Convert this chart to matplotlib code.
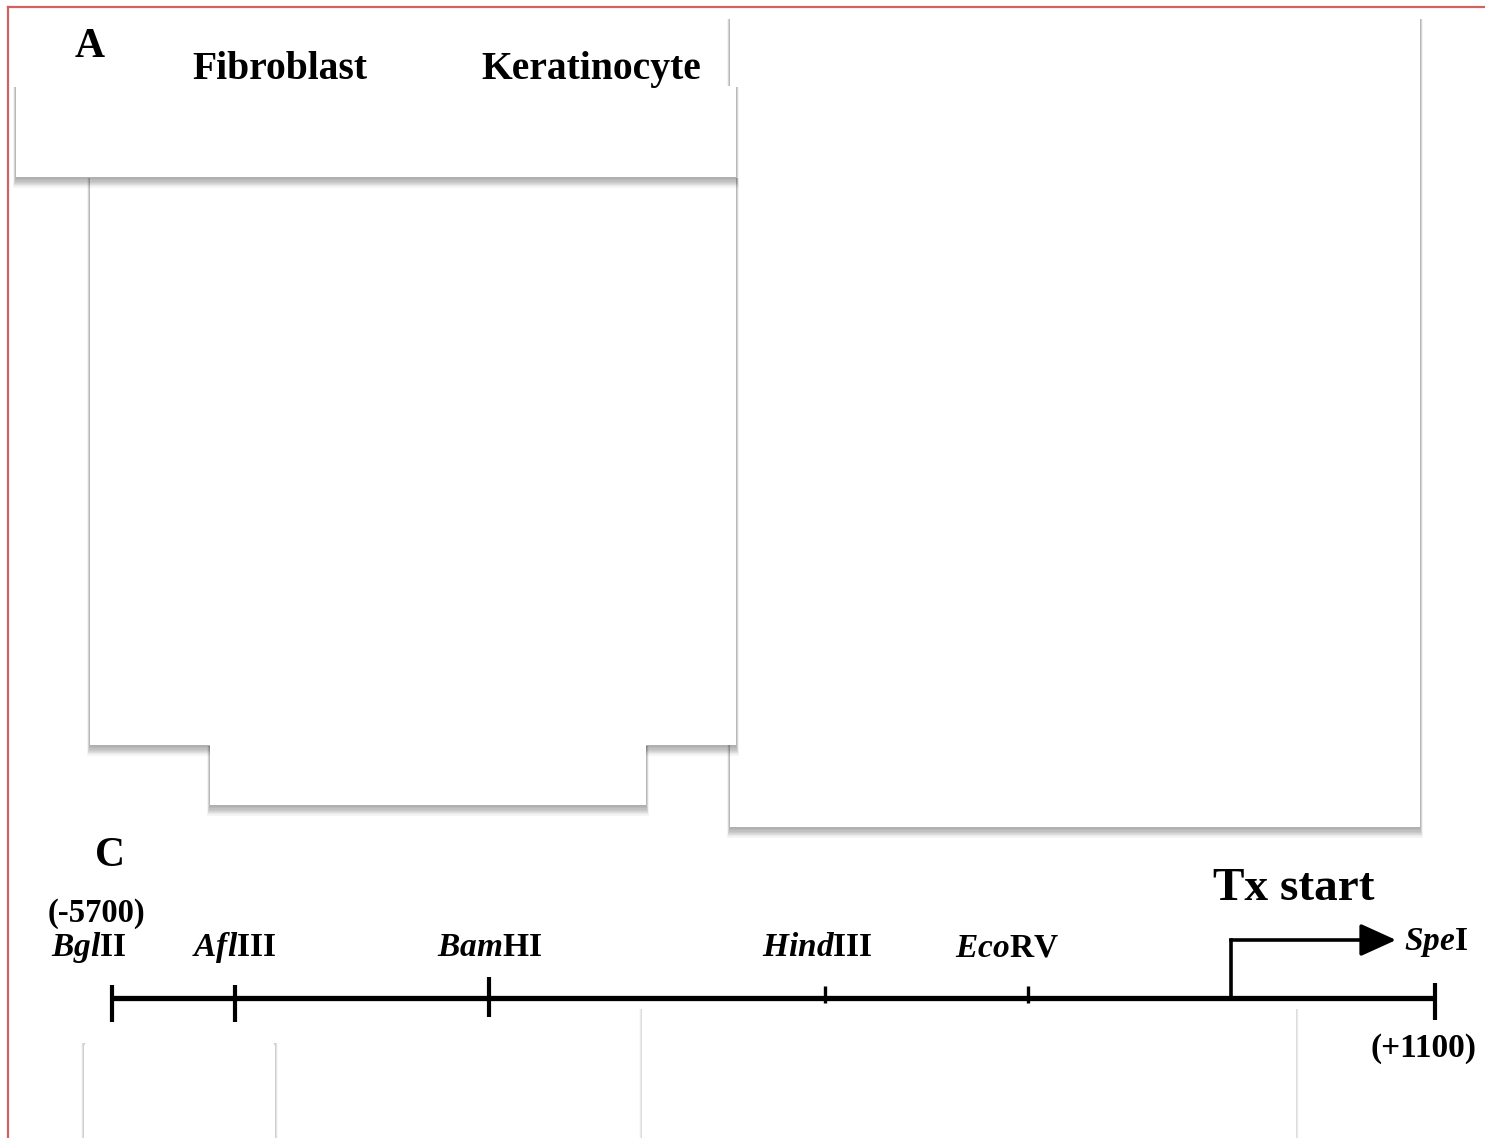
import matplotlib.pyplot as plt
from matplotlib.patches import Rectangle, FancyBboxPatch

plt.rcParams['font.family'] = 'Liberation Serif'
plt.rcParams['font.weight'] = 'bold'
plt.rcParams['mathtext.fontset'] = 'custom'
plt.rcParams['mathtext.it'] = 'Liberation Serif:italic:bold'
plt.rcParams['mathtext.rm'] = 'Liberation Serif:bold'
plt.rcParams['mathtext.bf'] = 'Liberation Serif:bold'

# restriction map data (bp relative to transcription start)
site_labels = [r'$\mathit{Bgl}$II', r'$\mathit{Afl}$III', r'$\mathit{Bam}$HI',
               r'$\mathit{Hind}$III', r'$\mathit{Eco}$RV', r'$\mathit{Spe}$I']
site_pos = [-5700, -5070, -3760, -2035, -990, 1100]
tx_start = 50
arrow_end = 900
map_start, map_end = -5700, 1100
end_labels = ['(-5700)', '(+1100)']

cell_types = ['Fibroblast', 'Keratinocyte']
cell_x = [280, 591]
panel_letters = ['A', 'C']

W, H = 1485, 1138
fig = plt.figure(figsize=(W / 100, H / 100), dpi=100)
fig.patch.set_facecolor('white')

# overlay in pixel units for the page layout
ov = fig.add_axes([0, 0, 1, 1])
ov.set_xlim(0, W)
ov.set_ylim(H, 0)
ov.axis('off')


def panel(x0, y0, x1, y1, z, rounded=False, strength=1.0):
    # soft drop shadow (mostly downwards), then the blank white panel
    for k in range(1, 9):
        sx = 0.35 * k
        ov.add_patch(Rectangle((x0 - sx, y0 + 1), x1 - x0 + 2 * sx, y1 - y0 + 1.2 * k,
                               fc='k', alpha=0.045 * strength, lw=0, zorder=z))
    if rounded:
        ov.add_patch(FancyBboxPatch((x0 + 5, y0 + 5), x1 - x0 - 10, y1 - y0 - 10,
                                    boxstyle='round,pad=5', fc='white', lw=0,
                                    zorder=z + 0.5))
    else:
        ov.add_patch(Rectangle((x0, y0), x1 - x0, y1 - y0, fc='white', lw=0,
                               zorder=z + 0.5))


panel(730, 18, 1420, 827, 1)
panel(90, 177, 736, 745, 2)
panel(16, 86, 736, 177, 3)
panel(210, 745, 646, 805, 2)
panel(84, 1042, 275, 1150, 2, rounded=True, strength=0.6)
panel(642, 1008, 1296, 1150, 2, strength=0.4)

# page frame
red = '#d06262'
ov.plot([8, W], [7, 7], color=red, lw=1.6, zorder=5)
ov.plot([8, 8], [7, H], color=red, lw=1.6, zorder=5)

ov.text(90, 57, panel_letters[0], fontsize=30, ha='center', va='baseline', zorder=6)
ov.text(110, 866, panel_letters[1], fontsize=30, ha='center', va='baseline', zorder=6)
for name, x in zip(cell_types, cell_x):
    ov.text(x, 79, name, fontsize=28.5, ha='center', va='baseline', zorder=6)

# restriction map axes: x in bp, y in page pixels
mx = fig.add_axes([112 / W, 0, (1435 - 112) / W, 1])
mx.set_facecolor('none')
mx.set_xlim(map_start, map_end)
mx.set_ylim(H, 0)
mx.axis('off')

line_y = 998
mx.plot([map_start, map_end], [line_y, line_y], color='k', lw=3.8,
        solid_capstyle='butt', clip_on=False)

tick_top = [985, 985, 977, 986, 986, 983]
tick_bot = [1022, 1022, 1017, 1003, 1003, 1020]
tick_lw = [3, 3, 3, 2.4, 2.4, 3]
for x, t, b, lw in zip(site_pos, tick_top, tick_bot, tick_lw):
    mx.plot([x, x], [t, b], color='k', lw=lw, solid_capstyle='butt', clip_on=False)

label_dx = [-23, 0, 0, -8, -21]
for x, lab, dx in zip(site_pos[:-1], site_labels[:-1], label_dx):
    mx.annotate(lab, xy=(x, 956), xytext=(dx, 0), textcoords='offset pixels',
                ha='center', va='baseline', fontsize=24, annotation_clip=False)

mx.annotate(end_labels[0], xy=(site_pos[0], 922), xytext=(-16, 0),
            textcoords='offset pixels', ha='center', va='baseline',
            fontsize=23.5, annotation_clip=False)
mx.annotate(end_labels[1], xy=(site_pos[-1], 1057), xytext=(-11, 0),
            textcoords='offset pixels', ha='center', va='baseline',
            fontsize=24, annotation_clip=False)

# transcription start arrow
arrow_y = 940
mx.plot([tx_start, tx_start], [line_y, arrow_y], color='k', lw=2.6,
        solid_capstyle='projecting', clip_on=False)
mx.annotate('', xy=(arrow_end, arrow_y), xytext=(tx_start, arrow_y),
            arrowprops=dict(arrowstyle='-|>,head_length=1.1,head_width=0.5',
                            mutation_scale=20, lw=2.6, color='k',
                            shrinkA=0, shrinkB=0), annotation_clip=False)
mx.annotate(site_labels[-1], xy=(arrow_end, 950), xytext=(8, 0),
            textcoords='offset pixels', ha='left', va='baseline',
            fontsize=24, annotation_clip=False)
mx.annotate('Tx start', xy=(tx_start, 900), xytext=(63, 0),
            textcoords='offset pixels', ha='center', va='baseline',
            fontsize=34, annotation_clip=False)

fig.savefig('out.png', dpi=100)
